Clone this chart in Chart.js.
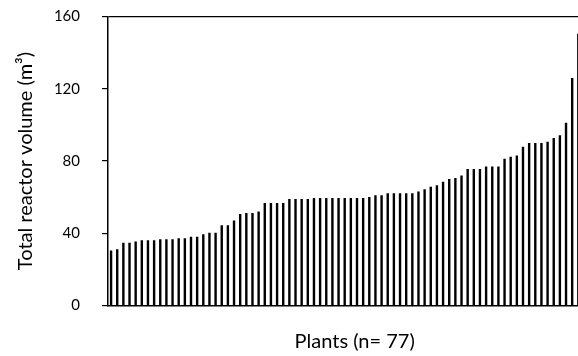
<!DOCTYPE html>
<html>
<head>
<meta charset="utf-8">
<title>Total reactor volume per plant</title>
<script src="https://cdn.jsdelivr.net/npm/chart.js@4.4.1/dist/chart.umd.min.js"></script>
<style>
  html, body { margin: 0; padding: 0; background: #fff; overflow: hidden; }
  #wrap { width: 578px; height: 356px; overflow: hidden; }
  canvas { display: block; }
</style>
</head>
<body>
<div id="wrap"><canvas id="c" width="584" height="356"></canvas></div>
<script>
// Plants ranked by total reactor volume
const plants = [
  1, 2, 3, 4, 5, 6, 7, 8, 9, 10, 11, 12, 13, 14, 15, 16, 17, 18, 19, 20,
  21, 22, 23, 24, 25, 26, 27, 28, 29, 30, 31, 32, 33, 34, 35, 36, 37, 38, 39, 40,
  41, 42, 43, 44, 45, 46, 47, 48, 49, 50, 51, 52, 53, 54, 55, 56, 57, 58, 59, 60,
  61, 62, 63, 64, 65, 66, 67, 68, 69, 70, 71, 72, 73, 74, 75, 76, 77
];

// Total reactor volume of each plant (m³)
const volumes = [
  30.4, 31.1, 34.8, 34.8, 35.4, 36.1, 36.1, 36.1, 36.7, 36.7,
  36.7, 37.3, 37.3, 38.1, 38.1, 39.5, 40.3, 40.3, 44.4, 44.4,
  47.0, 50.7, 51.2, 51.2, 52.0, 56.7, 56.7, 56.7, 56.7, 58.9,
  58.9, 58.9, 58.9, 59.5, 59.5, 59.5, 59.5, 59.5, 59.5, 59.5,
  59.5, 59.5, 60.1, 61.0, 61.0, 62.2, 62.2, 62.2, 62.2, 62.2,
  63.1, 64.4, 65.7, 66.6, 68.5, 70.1, 70.6, 72.0, 75.6, 75.6,
  75.6, 76.9, 76.9, 76.9, 81.2, 82.4, 83.1, 87.9, 90.0, 90.0,
  90.0, 90.7, 92.8, 94.2, 101.2, 126.0, 150.4
];

const yTicks = [0, 40, 80, 120, 160];
const yTitle = 'Total reactor volume (m³)';
const xTitle = 'Plants (n= 77)';

const FONT = 'Lato';

// Horizontal axis title, drawn under the plot
const xTitlePlugin = {
  id: 'xTitleText',
  afterDraw(chart) {
    const { ctx, chartArea } = chart;
    ctx.save();
    ctx.font = '20px ' + FONT;
    ctx.fillStyle = '#000';
    ctx.textAlign = 'center';
    ctx.textBaseline = 'middle';
    ctx.fillText(xTitle, (chartArea.left + chartArea.right) / 2 + 10, chartArea.bottom + 36);
    ctx.restore();
  }
};

function draw() {
  new Chart(document.getElementById('c'), {
    type: 'bar',
    data: {
      labels: plants,
      datasets: [{
        data: volumes,
        backgroundColor: '#000',
        borderWidth: 0,
        barPercentage: 0.39,
        categoryPercentage: 1.0
      }]
    },
    options: {
      responsive: false,
      animation: false,
      layout: { padding: { top: 16.5, right: 2.6, bottom: 0, left: 0 } },
      plugins: {
        legend: { display: false },
        tooltip: { enabled: false }
      },
      scales: {
        x: {
          type: 'category',
          offset: true,
          grid: { display: false, drawTicks: false },
          border: { display: true, color: '#000', width: 1.5 },
          ticks: { display: false },
          afterFit(scale) { scale.height = 50.5; }
        },
        y: {
          min: 0,
          max: 160,
          afterBuildTicks(scale) { scale.ticks = yTicks.map(v => ({ value: v })); },
          grid: {
            display: true,
            drawOnChartArea: true,
            drawTicks: true,
            tickLength: 6,
            tickColor: '#000',
            lineWidth: 1.2,
            color: ctx => (ctx.tick && ctx.tick.value === 160 ? '#000' : 'rgba(0,0,0,0)')
          },
          border: { display: true, color: '#000', width: 1.5 },
          ticks: {
            padding: 22,
            color: '#000',
            font: { family: FONT, size: 15 }
          },
          title: {
            display: true,
            text: yTitle,
            color: '#000',
            font: { family: FONT, size: 20 },
            padding: { top: 14, bottom: 0 }
          },
          afterFit(scale) {
            scale.width = 108;
            scale.paddingTop = 0;
            scale.paddingBottom = 0;
          }
        }
      }
    },
    plugins: [xTitlePlugin]
  });
}

if (document.fonts && document.fonts.load) {
  Promise.all([
    document.fonts.load('15px ' + FONT),
    document.fonts.load('20px ' + FONT)
  ]).then(draw, draw);
} else {
  draw();
}
</script>
</body>
</html>
